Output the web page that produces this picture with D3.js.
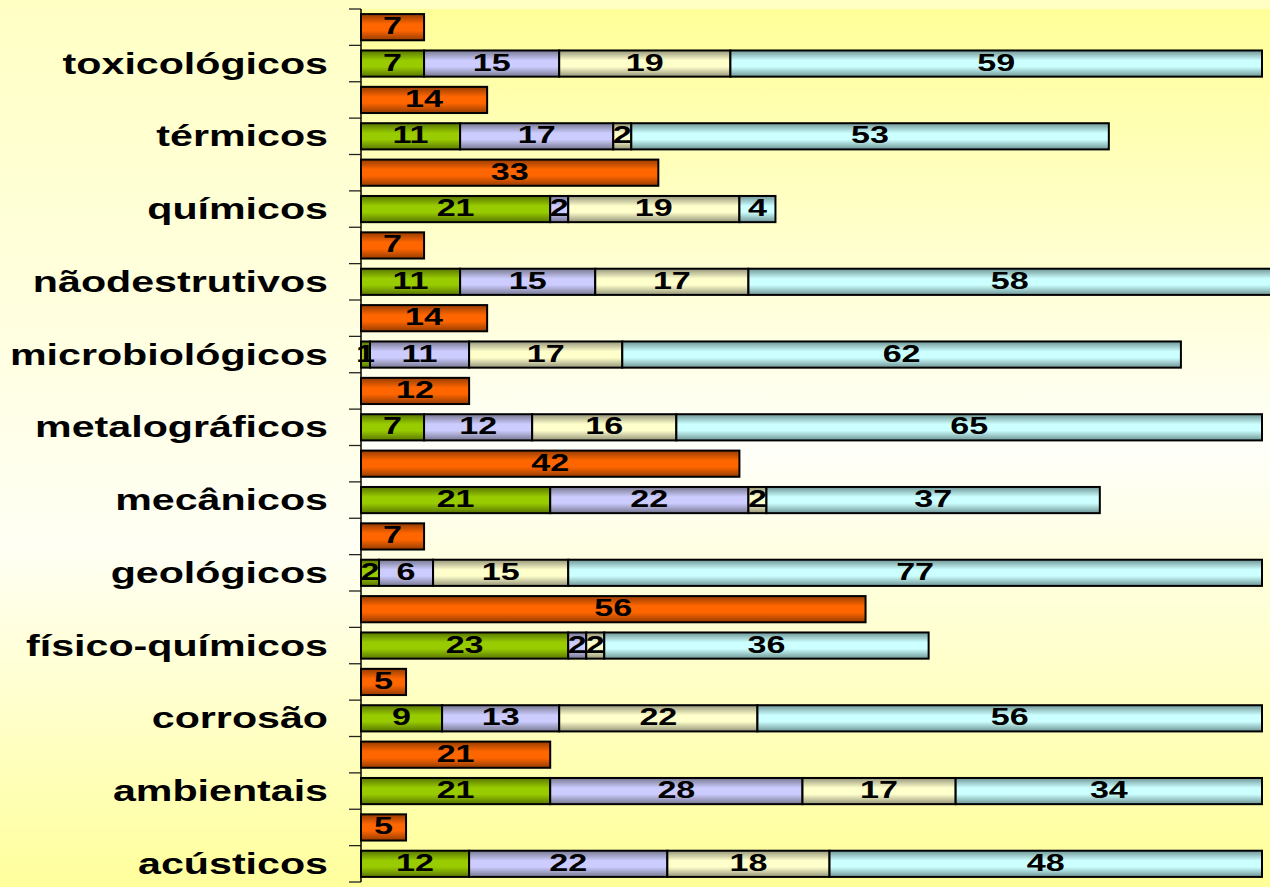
<!DOCTYPE html>
<html>
<head>
<meta charset="utf-8">
<script src="https://cdn.jsdelivr.net/npm/d3@7"></script>
<style>
  html, body { margin: 0; padding: 0; background: #ffffdd; }
  svg { display: block; }
</style>
</head>
<body>
<svg id="chart" width="1270" height="887"></svg>
<script>
// ---- data (top to bottom) ----
const categories = ["toxicológicos","térmicos","químicos","nãodestrutivos","microbiológicos","metalográficos","mecânicos","geológicos","físico-químicos","corrosão","ambientais","acústicos"];
const orangeValues = [7, 14, 33, 7, 14, 12, 42, 7, 56, 5, 21, 5];
const greenValues  = [7, 11, 21, 11, 1, 7, 21, 2, 23, 9, 21, 12];
const purpleValues = [15, 17, 2, 15, 11, 12, 22, 6, 2, 13, 28, 22];
const beigeValues  = [19, 2, 19, 17, 17, 16, 2, 15, 2, 22, 17, 18];
const blueValues   = [59, 53, 4, 58, 62, 65, 37, 77, 36, 56, 34, 48];
const stackSeries = ["green", "purple", "beige", "blue"];
const xDomain = [0, 100];

// ---- layout ----
const W = 1270, H = 887;
const plot = { left: 361, top: 9, right: 1270, bottom: 882 };
const x100 = 1262;
const SX = 1.42; // horizontal text stretch

const svg = d3.select("#chart");
const defs = svg.append("defs");

// backgrounds
const outer = defs.append("linearGradient").attr("id", "outerBg")
  .attr("x1", 0).attr("y1", 0).attr("x2", 0).attr("y2", 1);
[[0, "#ffffc4"], [0.62, "#fffff4"], [1, "#ffff9c"]].forEach(s =>
  outer.append("stop").attr("offset", s[0]).attr("stop-color", s[1]));
const inner = defs.append("linearGradient").attr("id", "plotBg")
  .attr("x1", 0).attr("y1", 0).attr("x2", 0).attr("y2", 1);
[[0, "#ffff99"], [0.5, "#fffffa"], [1, "#ffff99"]].forEach(s =>
  inner.append("stop").attr("offset", s[0]).attr("stop-color", s[1]));

svg.append("rect").attr("width", W).attr("height", H).attr("fill", "url(#outerBg)");
svg.append("rect").attr("x", plot.left).attr("y", plot.top)
  .attr("width", plot.right - plot.left).attr("height", H - plot.top)
  .attr("fill", "url(#plotBg)");

// bar gradients
const colors = {
  orange: ["#ff6600", "#953c00"],
  green:  ["#99cc00", "#597600"],
  purple: ["#ccccff", "#77778f"],
  beige:  ["#ffffcc", "#95957a"],
  blue:   ["#ccffff", "#6f9595"]
};
Object.entries(colors).forEach(([k, [base, dark]]) => {
  const g = defs.append("linearGradient").attr("id", "g-" + k)
    .attr("x1", 0).attr("y1", 0).attr("x2", 0).attr("y2", 1);
  [[0, dark], [0.38, base], [0.62, base], [1, dark]].forEach(s =>
    g.append("stop").attr("offset", s[0]).attr("stop-color", s[1]));
});

// rows: for each category, an orange row then a stacked row
const rows = [];
categories.forEach((c, i) => { rows.push(c + "|o"); rows.push(c + "|s"); });

const y = d3.scaleBand().domain(rows).range([plot.top, plot.bottom])
  .paddingInner(0.28).paddingOuter(0.14);
const x = d3.scaleLinear().domain(xDomain).range([plot.left, x100]);

const step = y.step();
const tickYs = d3.range(rows.length + 1).map(i => plot.top + i * step);

// stacked data
const stackRows = categories.map((c, i) => ({
  cat: c, green: greenValues[i], purple: purpleValues[i], beige: beigeValues[i], blue: blueValues[i]
}));
const stacked = d3.stack().keys(stackSeries)(stackRows);

const barsG = svg.append("g");
// orange bars
const orangeData = categories.map((c, i) => ({ cat: c, v: orangeValues[i] }));
barsG.selectAll("rect.o").data(orangeData).join("rect")
  .attr("class", "o")
  .attr("x", x(0)).attr("y", d => y(d.cat + "|o"))
  .attr("width", d => x(d.v) - x(0)).attr("height", y.bandwidth())
  .attr("fill", "url(#g-orange)").attr("stroke", "#000").attr("stroke-width", 2);

stacked.forEach(layer => {
  barsG.selectAll("rect.s-" + layer.key).data(layer).join("rect")
    .attr("class", "s-" + layer.key)
    .attr("x", d => x(d[0])).attr("y", d => y(d.data.cat + "|s"))
    .attr("width", d => x(d[1]) - x(d[0])).attr("height", y.bandwidth())
    .attr("fill", "url(#g-" + layer.key + ")").attr("stroke", "#000").attr("stroke-width", 2);
});

// value labels
const labelFont = "'Liberation Sans', Arial, sans-serif";
function valueLabel(cx, cy, txt) {
  svg.append("text")
    .attr("transform", `translate(${cx},${cy + 7}) scale(${SX},1)`)
    .attr("text-anchor", "middle")
    .attr("font-family", labelFont).attr("font-weight", "bold")
    .attr("font-size", 24).attr("fill", "#000")
    .text(txt);
}
orangeData.forEach(d => valueLabel((x(0) + x(d.v)) / 2, y(d.cat + "|o") + y.bandwidth() / 2, d.v));
stacked.forEach(layer => layer.forEach(d => {
  valueLabel((x(d[0]) + x(d[1])) / 2, y(d.data.cat + "|s") + y.bandwidth() / 2, d[1] - d[0]);
}));

// axis
const axisG = svg.append("g");
axisG.selectAll("line.tick").data(tickYs).join("line")
  .attr("x1", plot.left - 12).attr("x2", plot.left)
  .attr("y1", d => d).attr("y2", d => d)
  .attr("stroke", "#222").attr("stroke-width", 1.3);
axisG.append("line").attr("x1", plot.left).attr("x2", plot.left)
  .attr("y1", plot.top).attr("y2", plot.bottom)
  .attr("stroke", "#000").attr("stroke-width", 1.5);

// category labels
categories.forEach(c => {
  const cy = y(c + "|s") + y.bandwidth() / 2;
  svg.append("text")
    .attr("transform", `translate(328,${cy + 10}) scale(${SX},1)`)
    .attr("text-anchor", "end")
    .attr("font-family", labelFont).attr("font-weight", "bold")
    .attr("font-size", 29).attr("fill", "#000")
    .text(c);
});
</script>
</body>
</html>
